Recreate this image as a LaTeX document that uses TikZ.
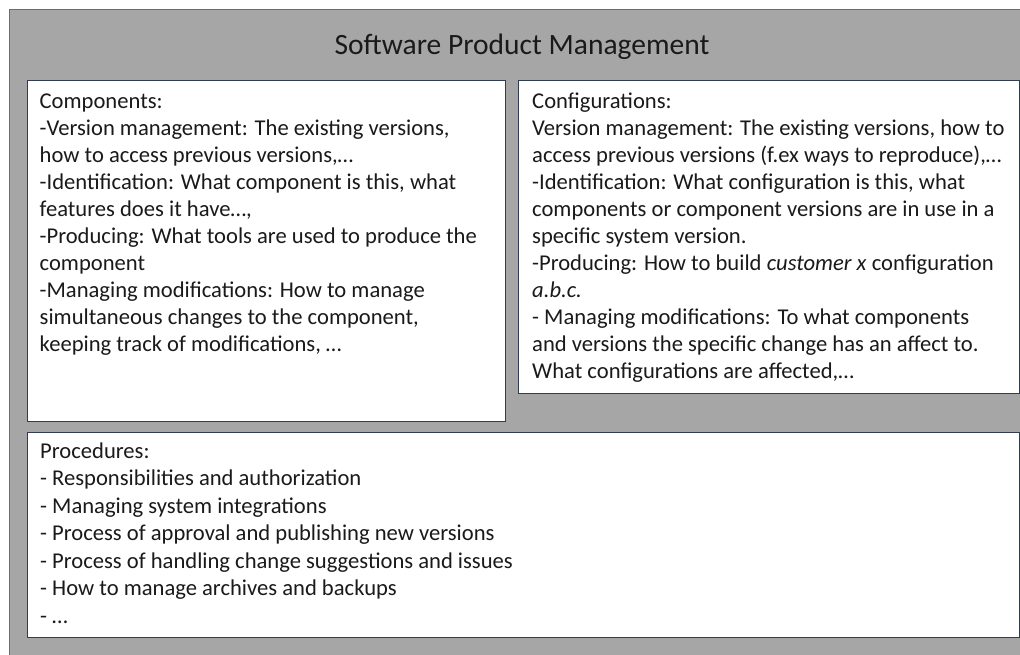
\documentclass[tikz,border=0pt]{standalone}
\usepackage{fontspec}
\setmainfont{Carlito}
\definecolor{panelgray}{HTML}{A6A6A6}
\definecolor{outerline}{HTML}{5F6E84}
\definecolor{boxline}{HTML}{2F3C52}
\definecolor{ink}{HTML}{1A1A1A}
\newcommand{\firstline}{\rule{0pt}{20pt}}
\tikzset{
  panel/.style={draw=outerline, line width=1.2pt, fill=panelgray},
  infobox/.style={draw=boxline, line width=1.2pt, fill=white, anchor=north west, inner sep=0pt},
  boxtext/.style={anchor=north west, inner sep=0pt, align=left, text=ink,
    font=\fontsize{22.6}{27}\selectfont},
  looseboxtext/.style={boxtext, font=\fontsize{22.6}{27.5}\selectfont},
  titletext/.style={text=ink, font=\fontsize{29.5}{33}\selectfont}
}
\begin{document}
\begin{tikzpicture}[x=1pt,y=-1pt]
\useasboundingbox (0,0) rectangle (1020,655);
\fill[white] (0,0) rectangle (1020,655);
% outer panel
\draw[panel] (9.5,9.5) rectangle (1030,665);
\node[titletext] (title) at (522,46.5) {Software Product Management};
% boxes
\node[infobox, minimum width=478pt, minimum height=341pt] (comp) at (27,80) {};
\node[infobox, minimum width=501pt, minimum height=313pt] (conf) at (518,80) {};
\node[infobox, minimum width=992pt, minimum height=205pt] (proc) at (27,432) {};
% box texts
\node[boxtext] (comptext) at ([shift={(12.5,8)}]comp.north west) {\firstline Components:\\
-Version management: The existing versions,\\
how to access previous versions,\ldots\\
-Identification: What component is this, what\\
features does it have\ldots,\\
-Producing: What tools are used to produce the\\
component\\
-Managing modifications: How to manage\\
simultaneous changes to the component,\\
keeping track of modifications, \ldots};
\node[boxtext] (conftext) at ([shift={(14,8)}]conf.north west) {\firstline Configurations:\\
Version management: The existing versions, how to\\
access previous versions (f.ex ways to reproduce),\ldots\\
-Identification: What configuration is this, what\\
components or component versions are in use in a\\
specific system version.\\
-Producing: How to build \textit{customer x} configuration\\
\textit{a.b.c.}\\
- Managing modifications: To what components\\
and versions the specific change has an affect to.\\
What configurations are affected,\ldots};
\node[looseboxtext] (proctext) at ([shift={(13,6)}]proc.north west) {\firstline Procedures:\\
- Responsibilities and authorization\\
- Managing system integrations\\
- Process of approval and publishing new versions\\
- Process of handling change suggestions and issues\\
- How to manage archives and backups\\
- \ldots};
\end{tikzpicture}
\end{document}
